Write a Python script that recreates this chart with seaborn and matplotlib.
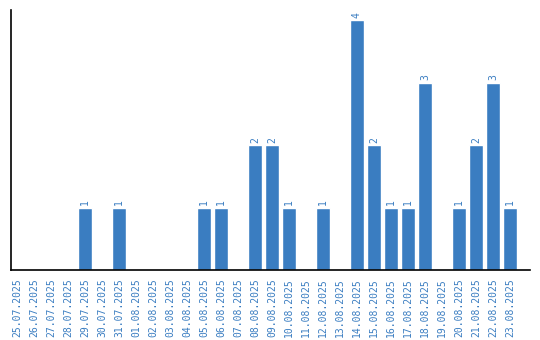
import matplotlib
matplotlib.use("Agg")
import matplotlib.pyplot as plt
import seaborn as sns
import pandas as pd

dates = ["25.07.2025", "26.07.2025", "27.07.2025", "28.07.2025", "29.07.2025",
         "30.07.2025", "31.07.2025", "01.08.2025", "02.08.2025", "03.08.2025",
         "04.08.2025", "05.08.2025", "06.08.2025", "07.08.2025", "08.08.2025",
         "09.08.2025", "10.08.2025", "11.08.2025", "12.08.2025", "13.08.2025",
         "14.08.2025", "15.08.2025", "16.08.2025", "17.08.2025", "18.08.2025",
         "19.08.2025", "20.08.2025", "21.08.2025", "22.08.2025", "23.08.2025"]
counts = [0, 0, 0, 0, 1, 0, 1, 0, 0, 0, 0, 1, 1, 0, 2, 2, 1, 0, 1, 0,
          4, 2, 1, 1, 3, 0, 1, 2, 3, 1]

color = "#3a7dc1"
df = pd.DataFrame({"date": dates, "count": counts})

sns.set_style("white")
plt.rcParams["font.family"] = ["DejaVu Sans Mono", "DejaVu Sans"]
fig = plt.figure(figsize=(5.4, 3.4), dpi=100)
ax = fig.add_axes([11/540, 70/340, 519/540, 260/340])
sns.barplot(data=df, x="date", y="count", color=color, width=0.82,
            saturation=1, ax=ax)
for i, v in enumerate(counts):
    if v > 0:
        ax.text(i, v + 0.04, str(v), rotation=90, ha="center", va="bottom",
                color=color, fontsize=7)
ax.set_xlim(-0.35, 30.18)
ax.set_ylim(0, 4.16)
ax.set_yticks([])
ax.set_xlabel("")
ax.set_ylabel("")
ax.tick_params(axis="x", rotation=90, labelsize=7, labelcolor=color,
               length=0, pad=6)
for s in ["top", "right"]:
    ax.spines[s].set_visible(False)
for s in ["left", "bottom"]:
    ax.spines[s].set_color("black")
    ax.spines[s].set_linewidth(1.2)
fig.savefig("out.png", dpi=100)
